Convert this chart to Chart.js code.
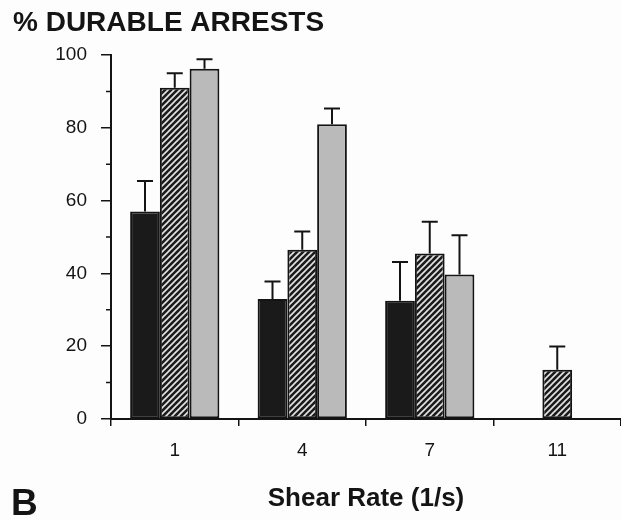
<!DOCTYPE html>
<html>
<head>
<meta charset="utf-8">
<script src="https://cdn.jsdelivr.net/npm/chart.js@4/dist/chart.umd.min.js"></script>
<style>
  html, body { margin: 0; padding: 0; background: #fdfdfd; }
  canvas { display: block; }
</style>
</head>
<body>
<canvas id="c" width="621" height="520"></canvas>
<script>
// ---- data ----
const categories = ['1', '4', '7', '11'];
const seriesBlack   = [57, 33, 32.5, 0];
const seriesHatched = [91, 46.5, 45.5, 13.5];
const seriesGray    = [96.2, 81, 39.7, 0];
const errBlack   = [8.4, 4.8, 10.6, 0];
const errHatched = [4, 5, 8.7, 6.4];
const errGray    = [2.6, 4.3, 10.8, 0];
const yMajorTicks = [0, 20, 40, 60, 80, 100];
const yMinorTicks = [10, 30, 50, 70, 90];
const chartTitle = '% DURABLE ARRESTS';
const xTitle = 'Shear Rate (1/s)';
const panelLabel = 'B';

const INK = '#141414';
const FONT = "'Liberation Sans', Arial, Helvetica, sans-serif";

function hatchPattern() {
  const s = 6;
  const c = document.createElement('canvas');
  c.width = s; c.height = s;
  const g = c.getContext('2d');
  g.fillStyle = '#1c1c1c';
  g.fillRect(0, 0, s, s);
  g.strokeStyle = '#e4e4e4';
  g.lineWidth = 1.6;
  g.beginPath();
  g.moveTo(0, s); g.lineTo(s, 0);
  g.moveTo(-2, 2); g.lineTo(2, -2);
  g.moveTo(s - 2, s + 2); g.lineTo(s + 2, s - 2);
  g.stroke();
  return g.createPattern(c, 'repeat');
}

const errorBars = {
  id: 'errorBars',
  afterDatasetsDraw(chart) {
    const ctx = chart.ctx;
    const yScale = chart.scales.y;
    chart.data.datasets.forEach((ds, i) => {
      const meta = chart.getDatasetMeta(i);
      meta.data.forEach((el, j) => {
        const v = ds.data[j];
        const e = ds.errors[j];
        if (!v || !e) return;
        const yTop = yScale.getPixelForValue(v);
        const yErr = yScale.getPixelForValue(v + e);
        ctx.save();
        ctx.strokeStyle = INK;
        ctx.lineWidth = 2;
        ctx.beginPath();
        ctx.moveTo(el.x, yTop);
        ctx.lineTo(el.x, yErr);
        ctx.moveTo(el.x - 8, yErr);
        ctx.lineTo(el.x + 8, yErr);
        ctx.stroke();
        ctx.restore();
      });
    });
  }
};

const extras = {
  id: 'extras',
  beforeDraw(chart) {
    const ctx = chart.ctx;
    ctx.save();
    ctx.fillStyle = '#fdfdfd';
    ctx.fillRect(0, 0, chart.width, chart.height);
    ctx.restore();
  },
  afterDraw(chart) {
    const ctx = chart.ctx;
    const y = chart.scales.y;
    const left = chart.chartArea.left;
    ctx.save();
    ctx.strokeStyle = INK;
    ctx.lineWidth = 1.5;
    ctx.beginPath();
    yMinorTicks.forEach(v => {
      const p = y.getPixelForValue(v);
      ctx.moveTo(left - 5, p);
      ctx.lineTo(left, p);
    });
    ctx.stroke();
    ctx.fillStyle = INK;
    ctx.font = 'bold 37px ' + FONT;
    ctx.textAlign = 'left';
    ctx.textBaseline = 'alphabetic';
    ctx.fillText(panelLabel, 11, 515);
    ctx.restore();
  }
};

new Chart(document.getElementById('c'), {
  type: 'bar',
  data: {
    labels: categories,
    datasets: [
      { label: 'black', data: seriesBlack, errors: errBlack, backgroundColor: '#1a1a1a' },
      { label: 'hatched', data: seriesHatched, errors: errHatched, backgroundColor: hatchPattern() },
      { label: 'gray', data: seriesGray, errors: errGray, backgroundColor: '#bababa' }
    ].map(d => Object.assign(d, {
      borderColor: INK, borderWidth: 2, borderSkipped: false,
      barPercentage: 1.0, categoryPercentage: 0.70
    }))
  },
  options: {
    responsive: false,
    animation: false,
    devicePixelRatio: 1,
    layout: { padding: { left: 13, right: 0, top: 0, bottom: 0 } },
    plugins: {
      legend: { display: false },
      tooltip: { enabled: false },
      title: {
        display: true,
        text: chartTitle,
        align: 'start',
        color: INK,
        font: { family: FONT, size: 28, weight: 'bold' },
        padding: { top: 6, bottom: 15.4 }
      }
    },
    scales: {
      x: {
        grid: { display: true, drawOnChartArea: false, drawTicks: true, tickLength: 7, color: INK, lineWidth: 1.5, offset: true },
        border: { display: true, color: INK, width: 2 },
        ticks: { color: INK, font: { family: FONT, size: 19 }, padding: 13 },
        title: {
          display: true, text: xTitle, color: INK,
          font: { family: FONT, size: 26, weight: 'bold' },
          padding: { top: 4, bottom: 6 }
        },
        afterFit(scale) { scale.height = 101; }
      },
      y: {
        min: 0, max: 100,
        afterBuildTicks(scale) { scale.ticks = yMajorTicks.map(v => ({ value: v })); },
        grid: { display: true, drawOnChartArea: false, drawTicks: true, tickLength: 10, color: INK, lineWidth: 1.5 },
        border: { display: true, color: INK, width: 2 },
        ticks: { color: INK, font: { family: FONT, size: 19 }, padding: 14 },
        afterFit(scale) { scale.width = 98; }
      }
    }
  },
  plugins: [extras, errorBars]
});
</script>
</body>
</html>
